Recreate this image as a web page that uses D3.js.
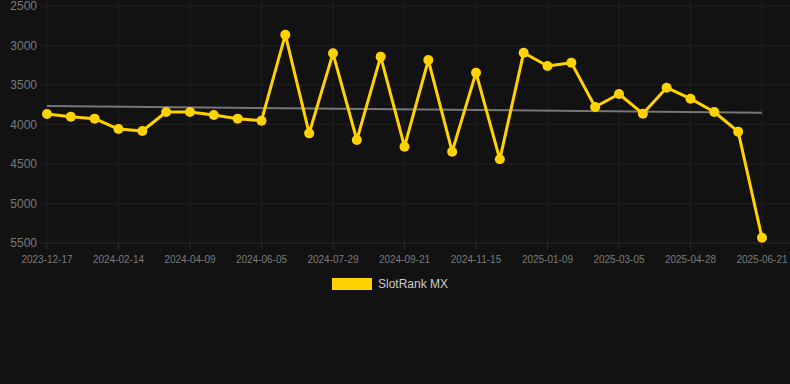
<!DOCTYPE html>
<html>
<head>
<meta charset="utf-8">
<script src="https://cdn.jsdelivr.net/npm/d3@7"></script>
<style>
  html, body { margin: 0; padding: 0; background: #121212; }
  svg { display: block; }
</style>
</head>
<body>
<script>
// Rank values, one per sample (lower is better, axis is reversed)
const rankValues = [3867, 3901, 3926, 4057, 4082, 3842, 3842, 3880, 3926, 3952,
                    2863, 4112, 3099, 4196, 3141, 4281, 3184, 4344, 3344, 4441,
                    3091, 3259, 3217, 3778, 3614, 3863, 3534, 3673, 3842, 4091, 5433];
// Tick labels shown every third sample
const tickLabels = ["2023-12-17", "2024-02-14", "2024-04-09", "2024-06-05", "2024-07-29",
                    "2024-09-21", "2024-11-15", "2025-01-09", "2025-03-05", "2025-04-28", "2025-06-21"];
const yTicks = [2500, 3000, 3500, 4000, 4500, 5000, 5500];
// Trend line values at first and last sample
const trendValues = [3766, 3851];
const seriesName = "SlotRank MX";

const width = 790, height = 384;
const gold = "#ffd200";

const svg = d3.select("body").append("svg")
    .attr("width", width)
    .attr("height", height)
    .style("background", "#121212");

const x = d3.scaleLinear()
    .domain([0, rankValues.length - 1])
    .range([47, 762]);

const y = d3.scaleLinear()
    .domain([2500, 5500])
    .range([6, 243]);

// Grid
const grid = svg.append("g");
grid.selectAll("line.h")
  .data(yTicks)
  .join("line")
    .attr("x1", 40).attr("x2", width)
    .attr("y1", d => y(d)).attr("y2", d => y(d))
    .attr("stroke", d => d === 5500 ? "#2a2a2a" : "#1e1e1e").attr("stroke-width", 1);

const tickIdx = tickLabels.map((t, i) => i * 3);
grid.selectAll("line.v")
  .data(tickIdx)
  .join("line")
    .attr("x1", d => x(d)).attr("x2", d => x(d))
    .attr("y1", 0).attr("y2", 243)
    .attr("stroke", "#1e1e1e").attr("stroke-width", 1);
grid.selectAll("line.t")
  .data(tickIdx)
  .join("line")
    .attr("x1", d => x(d)).attr("x2", d => x(d))
    .attr("y1", 243).attr("y2", 249)
    .attr("stroke", "#2a2a2a").attr("stroke-width", 1);

// Y labels
svg.append("g")
  .selectAll("text")
  .data(yTicks)
  .join("text")
    .attr("x", 37)
    .attr("y", d => y(d))
    .attr("dy", "0.35em")
    .attr("text-anchor", "end")
    .attr("fill", "#7a7a7a")
    .style("font", "12px 'Liberation Sans', Arial, sans-serif")
    .text(d => d);

// X labels
svg.append("g")
  .selectAll("text")
  .data(tickLabels)
  .join("text")
    .attr("x", (d, i) => x(i * 3))
    .attr("y", 263)
    .attr("text-anchor", "middle")
    .attr("fill", "#7a7a7a")
    .style("font", "10px 'Liberation Sans', Arial, sans-serif")
    .text(d => d);

// Trend line
svg.append("line")
    .attr("x1", x(0)).attr("x2", x(rankValues.length - 1))
    .attr("y1", y(trendValues[0])).attr("y2", y(trendValues[1]))
    .attr("stroke", "#777").attr("stroke-width", 2);

// Series line
const line = d3.line()
    .x((d, i) => x(i))
    .y(d => y(d));

svg.append("path")
    .datum(rankValues)
    .attr("fill", "none")
    .attr("stroke", gold)
    .attr("stroke-width", 3)
    .attr("stroke-linejoin", "round")
    .attr("d", line);

svg.append("g")
  .selectAll("circle")
  .data(rankValues)
  .join("circle")
    .attr("cx", (d, i) => x(i))
    .attr("cy", d => y(d))
    .attr("r", 5)
    .attr("fill", gold);

// Legend
const legend = svg.append("g");
legend.append("rect")
    .attr("x", 332).attr("y", 278)
    .attr("width", 40).attr("height", 12)
    .attr("fill", gold);
legend.append("text")
    .attr("x", 378).attr("y", 284)
    .attr("dy", "0.35em")
    .attr("fill", "#cccccc")
    .style("font", "12px 'Liberation Sans', Arial, sans-serif")
    .text(seriesName);
</script>
</body>
</html>
